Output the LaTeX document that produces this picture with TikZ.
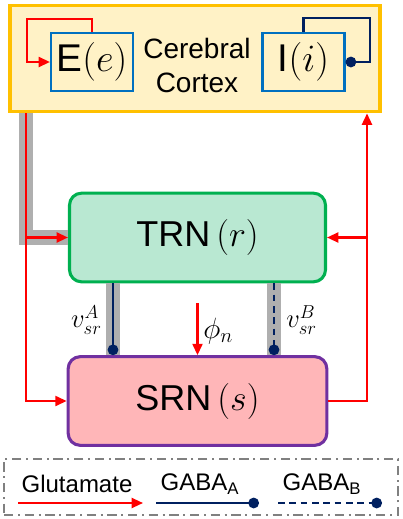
\RequirePackage{fix-cm}
\documentclass[tikz,border=0pt]{standalone}
\usepackage{amsmath}
\usepackage{fontspec}
\setmainfont{Liberation Sans}
\usepackage{xcolor}
\usetikzlibrary{arrows.meta}
\definecolor{cortexfill}{HTML}{FFF2C6}
\definecolor{cortexline}{HTML}{FFC000}
\definecolor{popline}{HTML}{0070C0}
\definecolor{trnfill}{HTML}{B9E8D2}
\definecolor{trnline}{HTML}{00B050}
\definecolor{srnfill}{HTML}{FFB6B8}
\definecolor{srnline}{HTML}{7030A0}
\definecolor{gabacol}{HTML}{002060}
\definecolor{bandcol}{HTML}{AFAFAF}
\definecolor{keyline}{HTML}{808080}

\begin{document}
\begin{tikzpicture}[x=0.75pt,y=-0.75pt,
                glu/.style={red, line width=1.6pt, -{Triangle[length=8.5pt,width=7.5pt]}},
                gabaA/.style={gabacol, line width=1.6pt, -{Circle[length=8pt]}},
                gabaB/.style={gabaA, dash pattern=on 5pt off 3.5pt},
                band/.style={bandcol, line width=11pt},
                pop/.style={draw=popline, line width=1.6pt, minimum width=61.5pt, minimum height=43.5pt, inner sep=0pt, font=\fontsize{29}{32}\selectfont},
                nucleus/.style={rounded corners=9pt, line width=2.3pt, minimum width=192pt, minimum height=66.5pt, font=\fontsize{27}{30}\selectfont},
                keytext/.style={font=\fontsize{18}{20}\selectfont, inner sep=0pt},
                rate/.style={font=\fontsize{20}{22}\selectfont, inner sep=0pt}]
                \useasboundingbox (0,0) rectangle (403,519);
                \node[draw=cortexline, fill=cortexfill, line width=2.4pt, minimum width=277.5pt, minimum height=80pt] (cortex) at (195,58.5) {};
                \node[pop] (E) at (92,62) {E$(e)$};
                \node[pop] (I) at (303.5,62) {I$(i)$};
                \node[align=center, font=\fontsize{21}{25.5}\selectfont] (cc) at (197,65) {Cerebral\\Cortex};
                \node[nucleus, draw=trnline, fill=trnfill] (trn) at (197.5,237.5) {TRN\,$(r)$};
                \node[nucleus, draw=srnline, fill=srnfill, minimum width=194pt] (srn) at (197.5,401) {SRN\,$(s)$};
                \coordinate (lt) at (26,237.5);
                \coordinate (rt) at (367,237.5);
                \coordinate (ka) at (113,0);
                \coordinate (kb) at (274,0);
                \coordinate (ph) at (197.5,303);
                \draw[band] (lt |- cortex.south) -- (lt) -- (trn.west);
                \draw[band] (trn.south -| ka) -- (srn.north -| ka);
                \draw[band] (trn.south -| kb) -- (srn.north -| kb);
                \draw[glu] (lt |- cortex.south) |- (srn.west);
                \draw[glu] (lt) -- (trn.west);
                \draw[glu] (srn.east) -| (rt |- cortex.south);
                \draw[glu] (rt) -- (trn.east);
                \draw[gabaA] (trn.south -| ka) -- (srn.north -| ka);
                \draw[gabaB] (trn.south -| kb) -- (srn.north -| kb);
                \draw[glu] (ph) -- (srn.north);
                \node[rate, font=\fontsize{22}{24}\selectfont, anchor=west] (phi) at (203,331) {$\phi_n$};
                \node[rate, anchor=east] (vA) at (102,320) {$v_{sr}^{A}$};
                \node[rate, anchor=west] (vB) at (286,320) {$v_{sr}^{B}$};
                \draw[glu] (E.north) -- ++(0,-13) -| ([xshift=-17.25pt]E.west) -- (E.west);
                \draw[gabaA] (I.north) -- ++(0,-14) -| ([xshift=18pt]I.east) -- (I.east);
                \node[draw=keyline, line width=1.5pt, dash pattern=on 7pt off 3.5pt on 1.5pt off 3.5pt, minimum width=295.5pt, minimum height=42pt] (key) at (201,487) {};
                \node[keytext] (glut) at (77,484) {Glutamate};
                \node[keytext] (gA) at (200,484) {GABA\textsubscript{A}};
                \node[keytext] (gB) at (322,484) {GABA\textsubscript{B}};
                \coordinate (k1) at (18,503);
                \coordinate (k2) at (143,503);
                \coordinate (k3) at (156,503);
                \coordinate (k4) at (259,503);
                \coordinate (k5) at (278,503);
                \coordinate (k6) at (382,503);
                \draw[glu] (k1) -- (k2);
                \draw[gabaA] (k3) -- (k4);
                \draw[gabaB] (k5) -- (k6);
            \end{tikzpicture}
\end{document}
